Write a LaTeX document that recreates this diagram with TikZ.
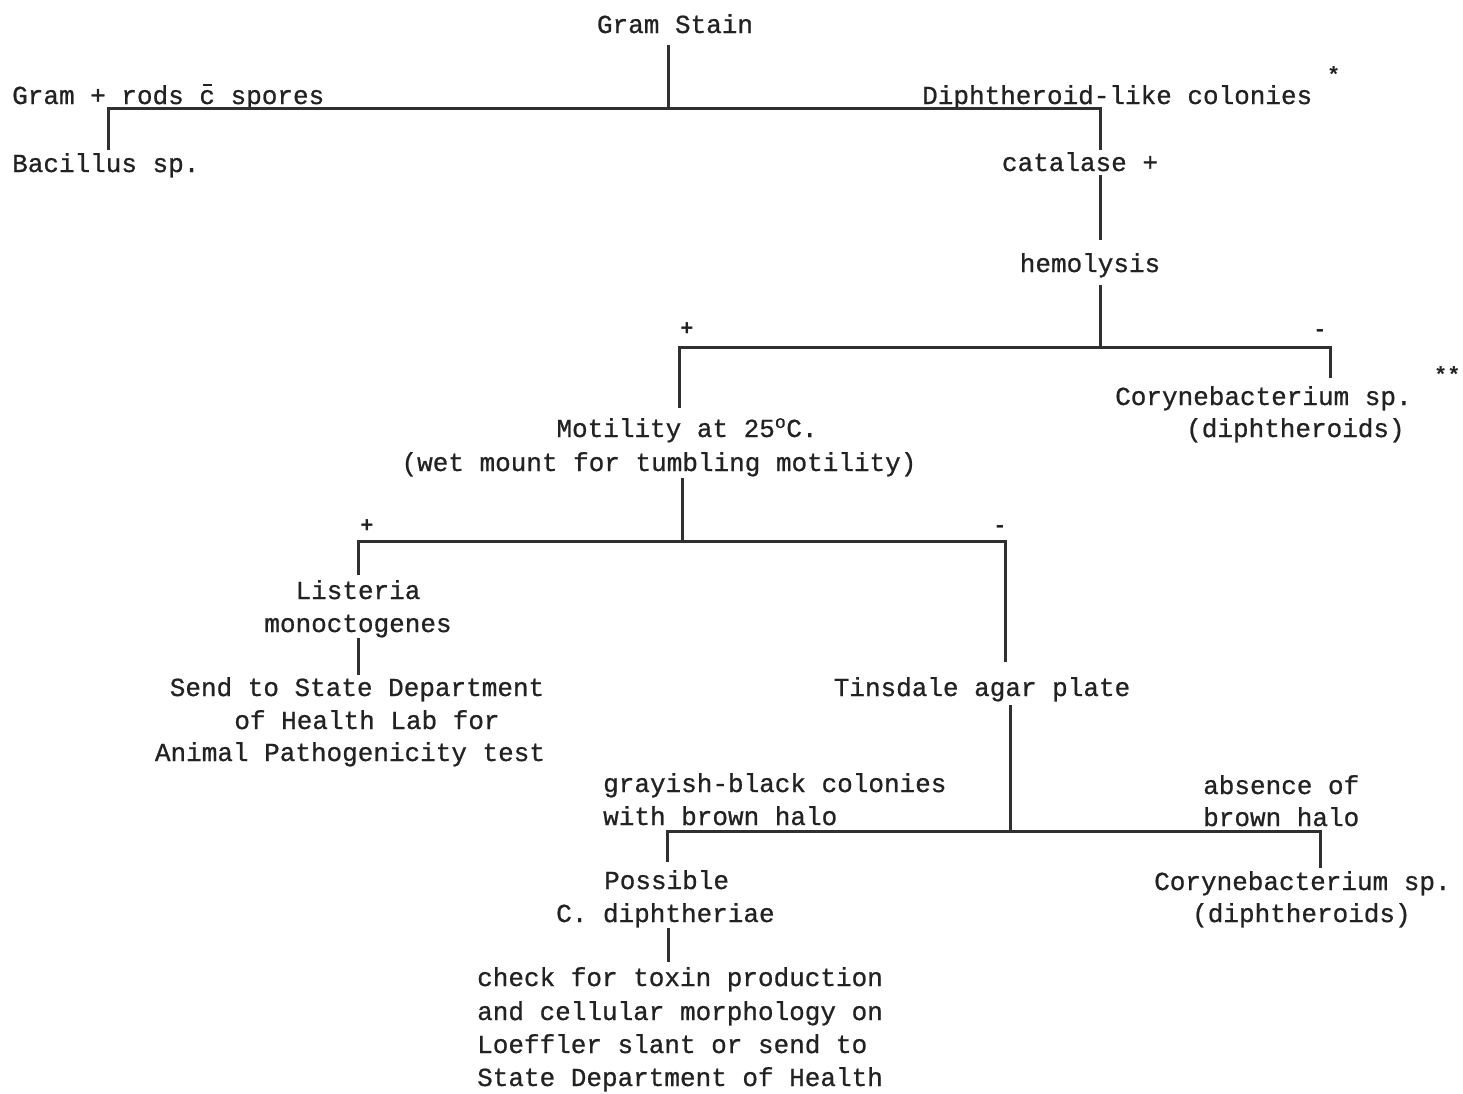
\documentclass[tikz,border=0pt]{standalone}
\usepackage{fontspec}
\setmainfont{Liberation Mono}[UprightFeatures={FakeBold=0.8}]
\definecolor{ink}{HTML}{222222}
\definecolor{rule}{HTML}{303030}
\newcommand{\cbar}{\ooalign{c\cr\hidewidth\raisebox{18pt}{\rule{9pt}{2pt}}\hidewidth\cr}}
\begin{document}
\begin{tikzpicture}[x=1pt,y=-1pt,
  txt/.style={inner sep=0pt,anchor=base,text=ink,font=\fontsize{26}{33}\selectfont},
  txtl/.style={txt,anchor=base west},
  sign/.style={inner sep=0pt,anchor=base,text=ink,font=\fontsize{22}{24}\selectfont\bfseries},
  conn/.style={draw=rule,line width=3pt,line cap=butt,line join=miter}]
\useasboundingbox[fill=white] (0,0) rectangle (1463,1093);

% texts
\node[txt]  (gram)   at (675,33)  {Gram Stain};
\node[txtl] (gpos)   at (12,104)  {Gram + rods \cbar{} spores};
\node[txtl] (diph)   at (922,104) {Diphtheroid-like colonies};
\node[sign,anchor=base west] (star1) at (1327,82) {*};
\node[txtl] (bac)    at (12,172)  {Bacillus sp.};
\node[txt]  (cat)    at (1080,171) {catalase +};
\node[txt]  (hemo)   at (1090,272) {hemolysis};
\node[sign] (p1)     at (687,335) {+};
\node[sign] (m1)     at (1320,336) {-};
\node[txtl] (cora)   at (1115,405) {Corynebacterium sp.};
\node[txtl] (corb)   at (1186,437) {(diphtheroids)};
\node[sign,anchor=base west] (stars) at (1434,382) {**};
\node[txt]  (mota)   at (687,437) {Motility at 25\textsuperscript{o}C.};
\node[txt]  (motb)   at (659,471) {(wet mount for tumbling motility)};
\node[sign] (p2)     at (367,532) {+};
\node[sign] (m2)     at (1000,532) {-};
\node[txt]  (lista)  at (358,599) {Listeria};
\node[txt]  (listb)  at (358,632) {monoctogenes};
\node[txt]  (senda)  at (357,696) {Send to State Department};
\node[txt]  (sendb)  at (367,729) {of Health Lab for};
\node[txt]  (sendc)  at (350,761) {Animal Pathogenicity test};
\node[txt]  (tins)   at (982,696) {Tinsdale agar plate};
\node[txtl] (graya)  at (603,792) {grayish-black colonies};
\node[txtl] (grayb)  at (603,825) {with brown halo};
\node[txtl] (absa)   at (1203,794) {absence of};
\node[txtl] (absb)   at (1203,826) {brown halo};
\node[txtl] (possa)  at (604,889) {Possible};
\node[txtl] (possb)  at (556,922) {C. diphtheriae};
\node[txtl] (corc)   at (1154,890) {Corynebacterium sp.};
\node[txtl] (cord)   at (1192,922) {(diphtheroids)};
\node[txtl] (chka)   at (477,986) {check for toxin production};
\node[txtl] (chkb)   at (477,1020) {and cellular morphology on};
\node[txtl] (chkc)   at (477,1053) {Loeffler slant or send to};
\node[txtl] (chkd)   at (477,1086) {State Department of Health};

% junction coordinates
\coordinate (g0) at (668,45);   \coordinate (g1) at (668,108);
\coordinate (b0) at (108,150);  \coordinate (b1) at (108,108);
\coordinate (c1) at (1100,108); \coordinate (c0) at (1100,150);
\coordinate (h0) at (1100,175); \coordinate (h1) at (1100,240);
\coordinate (k0) at (1100,285); \coordinate (k1) at (1100,347);
\coordinate (m0) at (679,408);  \coordinate (m1) at (679,347);
\coordinate (r1) at (1330,347); \coordinate (r0) at (1330,378);
\coordinate (t0) at (682,478);  \coordinate (t1) at (682,541);
\coordinate (l0) at (358,575);  \coordinate (l1) at (358,541);
\coordinate (n1) at (1005,541); \coordinate (n0) at (1005,662);
\coordinate (s0) at (358,638);  \coordinate (s1) at (358,675);
\coordinate (q0) at (1010,705); \coordinate (q1) at (1010,830);
\coordinate (d0) at (667,862);  \coordinate (d1) at (667,831);
\coordinate (e1) at (1320,831); \coordinate (e0) at (1320,868);
\coordinate (f0) at (668,928);  \coordinate (f1) at (668,962);

% connectors
\draw[conn] (g0) -- (g1);
\draw[conn] (b0) -- (b1) -- (c1) -- (c0);
\draw[conn] (h0) -- (h1);
\draw[conn] (k0) -- (k1);
\draw[conn] (m0) -- (m1) -- (r1) -- (r0);
\draw[conn] (t0) -- (t1);
\draw[conn] (l0) -- (l1) -- (n1) -- (n0);
\draw[conn] (s0) -- (s1);
\draw[conn] (q0) -- (q1);
\draw[conn] (d0) -- (d1) -- (e1) -- (e0);
\draw[conn] (f0) -- (f1);
\end{tikzpicture}
\end{document}
